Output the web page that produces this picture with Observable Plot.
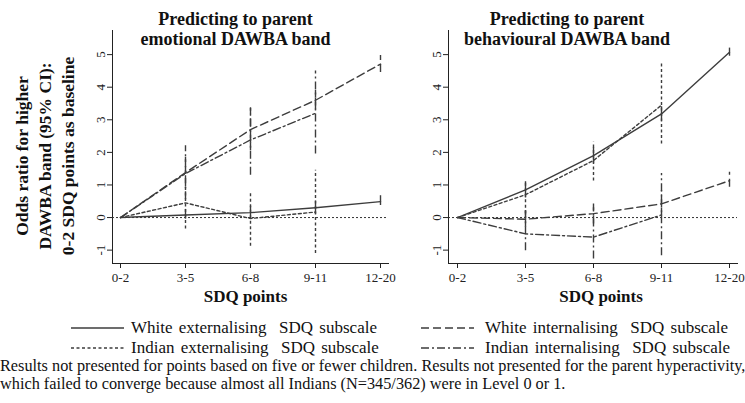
<!DOCTYPE html>
<html><head><meta charset="utf-8">
<script src="https://cdn.jsdelivr.net/npm/d3@7"></script>
<script src="https://cdn.jsdelivr.net/npm/@observablehq/plot@0.6"></script>
<style>
body{margin:0;background:#fff;}
#wrap{position:relative;width:745px;height:403px;overflow:hidden;font-family:"Liberation Serif","Times New Roman",serif;color:#111;}
#wrap svg.panel{position:absolute;top:0;overflow:visible;}
#wrap svg.panel, #wrap svg.panel text{font-family:"Liberation Serif","Times New Roman",serif !important;}
.leg{position:absolute;font-size:17px;white-space:pre;word-spacing:2px;line-height:19px;}
.leg svg{position:absolute;top:0;left:0;}
.cap{position:absolute;left:0;font-size:16.3px;line-height:18px;white-space:nowrap;}
</style></head><body><div id="wrap"></div>
<script>
// ---- data ----
const categories = ["0-2", "3-5", "6-8", "9-11", "12-20"];
const yTicks = [-1, 0, 1, 2, 3, 4, 5];
const seriesNames = ["White externalising  SDQ subscale", "White internalising  SDQ subscale", "Indian externalising  SDQ subscale", "Indian internalising  SDQ subscale"];

// Left panel: parent emotional DAWBA band
const emoWhiteExt   = [0, 0.08, 0.15, 0.30, 0.49];
const emoWhiteExtLo = [null, -0.05, -0.05, 0.10, 0.37];
const emoWhiteExtHi = [null, 0.25, 0.35, 0.50, 0.67];
const emoWhiteInt   = [0, 1.38, 2.70, 3.60, 4.71];
const emoWhiteIntLo = [null, 0.95, 2.05, 3.30, 4.45];
const emoWhiteIntHi = [null, 1.85, 3.35, 3.90, 4.97];
const emoIndianExt   = [0, 0.45, -0.03, 0.17, null];
const emoIndianExtLo = [null, -0.35, -0.88, -1.10, null];
const emoIndianExtHi = [null, 0.95, 0.80, 1.45, null];
const emoIndianInt   = [0, 1.35, 2.38, 3.20, null];
const emoIndianIntLo = [null, 0.55, 1.30, 1.95, null];
const emoIndianIntHi = [null, 2.20, 3.37, 4.50, null];

// Right panel: parent behavioural DAWBA band
const behWhiteExt   = [0, 0.85, 1.90, 3.18, 5.07];
const behWhiteExtLo = [null, 0.60, 1.65, 2.95, 4.95];
const behWhiteExtHi = [null, 1.10, 2.15, 3.40, 5.20];
const behWhiteInt   = [0, -0.05, 0.12, 0.42, 1.13];
const behWhiteIntLo = [null, -0.30, -0.20, 0.05, 0.93];
const behWhiteIntHi = [null, 0.20, 0.45, 0.83, 1.39];
const behIndianExt   = [0, 0.70, 1.75, 3.45, null];
const behIndianExtLo = [null, -0.05, 1.12, 2.26, null];
const behIndianExtHi = [null, 1.13, 2.31, 4.72, null];
const behIndianInt   = [0, -0.50, -0.60, 0.08, null];
const behIndianIntLo = [null, -1.02, -1.27, -1.17, null];
const behIndianIntHi = [null, 0.30, 0.30, 1.35, null];

const titles = ["Predicting to parent\nemotional DAWBA band", "Predicting to parent\nbehavioural DAWBA band"];
const yTitle = "Odds ratio for higher\nDAWBA band (95% CI):\n0-2 SDQ points as baseline";
const xTitle = "SDQ points";
const caption = ["Results not presented for points based on five or fewer children. Results not presented for the parent hyperactivity,",
                 "which failed to converge because almost all Indians (N=345/362) were in Level 0 or 1."];

// ---- styles ----
const serif = "Liberation Serif";
const dashes = [null, "8,4", "3,2.5", "8,3,2,3"];
const lineColor = "#3d3d3d";

function makeSeries(vals) {
  return vals.map((v, k) => ({dash: dashes[k], v: v[0], lo: v[1], hi: v[2]}));
}
const emoSeries = makeSeries([
  [emoWhiteExt, emoWhiteExtLo, emoWhiteExtHi],
  [emoWhiteInt, emoWhiteIntLo, emoWhiteIntHi],
  [emoIndianExt, emoIndianExtLo, emoIndianExtHi],
  [emoIndianInt, emoIndianIntLo, emoIndianIntHi]]);
const behSeries = makeSeries([
  [behWhiteExt, behWhiteExtLo, behWhiteExtHi],
  [behWhiteInt, behWhiteIntLo, behWhiteIntHi],
  [behIndianExt, behIndianExtLo, behIndianExtHi],
  [behIndianInt, behIndianIntLo, behIndianIntHi]]);

function makePanel(o) {
  const marks = [Plot.ruleY([0], {stroke: "#333", strokeWidth: 1, strokeDasharray: "2,2"})];
  for (const s of o.series) {
    const rows = categories.map((c, i) => ({cat: c, v: s.v[i], lo: s.lo[i], hi: s.hi[i]}));
    const common = {stroke: lineColor, strokeWidth: 1.4};
    if (s.dash) common.strokeDasharray = s.dash;
    marks.push(Plot.line(rows.filter(d => d.v != null), {x: "cat", y: "v", ...common}));
    marks.push(Plot.ruleX(rows.filter(d => d.lo != null), {x: "cat", y1: "lo", y2: "hi", ...common}));
  }
  marks.push(Plot.text([o.title], {frameAnchor: "top", lineAnchor: "middle", dy: -2, dx: o.titleDx,
    fontFamily: serif, fontWeight: "bold", fontSize: 18, lineHeight: 1.15, fill: "#111"}));
  marks.push(Plot.text([xTitle], {frameAnchor: "bottom", lineAnchor: "middle", dy: 33, dx: o.xTitleDx,
    fontFamily: serif, fontWeight: "bold", fontSize: 17, fill: "#111"}));
  if (o.yTitle) {
    marks.push(Plot.text([o.yTitle], {frameAnchor: "left", textAnchor: "middle", lineAnchor: "middle", rotate: -90, dx: -69, dy: 9,
      fontFamily: serif, fontWeight: "bold", fontSize: 17.5, lineHeight: 1.3, fill: "#111"}));
  }
  const svg = Plot.plot({
    width: o.width, height: 305,
    marginLeft: o.marginLeft, marginRight: o.marginRight, marginTop: 30, marginBottom: 42,
    style: {fontFamily: serif, fontSize: "13px", color: "#222", background: "transparent", overflow: "visible"},
    x: {type: "point", domain: categories, padding: o.pad, line: true, label: null, tickSize: 5, tickPadding: 4},
    y: {domain: [-1.41, 5.74], ticks: yTicks, line: true, label: null, tickRotate: -90, tickSize: 5, tickPadding: 3,
        tickFormat: d => String(d)},
    marks
  });
  svg.classList.add("panel");
  svg.style.left = o.left + "px";
  return svg;
}

const wrap = document.getElementById("wrap");
wrap.appendChild(makePanel({series: emoSeries, title: titles[0], yTitle, width: 392, left: 0,
  marginLeft: 112, marginRight: 4, pad: 0.115, titleDx: -15, xTitleDx: -5}));
wrap.appendChild(makePanel({series: behSeries, title: titles[1], width: 353, left: 392,
  marginLeft: 56, marginRight: 8, pad: 0.1, titleDx: -26, xTitleDx: 8}));

// ---- legend ----
const legPos = [
  {x: 71, w: 53, tx: 131, y: 318},
  {x: 421, w: 53, tx: 485, y: 318},
  {x: 71, w: 53, tx: 131, y: 338},
  {x: 421, w: 53, tx: 485, y: 338}
];
seriesNames.forEach((name, k) => {
  const p = legPos[k];
  const div = document.createElement("div");
  div.className = "leg";
  div.style.left = p.x + "px";
  div.style.top = p.y + "px";
  div.style.paddingLeft = (p.tx - p.x) + "px";
  div.innerHTML = `<svg width="${p.w}" height="19"><line x1="0" x2="${p.w}" y1="10" y2="10" stroke="${lineColor}" stroke-width="1.4" ${dashes[k] ? `stroke-dasharray="${dashes[k]}"` : ""}/></svg>`;
  div.appendChild(document.createTextNode(name));
  wrap.appendChild(div);
});

caption.forEach((t, i) => {
  const d = document.createElement("div");
  d.className = "cap";
  d.style.top = (357 + i * 18) + "px";
  d.textContent = t;
  wrap.appendChild(d);
});
</script>
</body></html>
